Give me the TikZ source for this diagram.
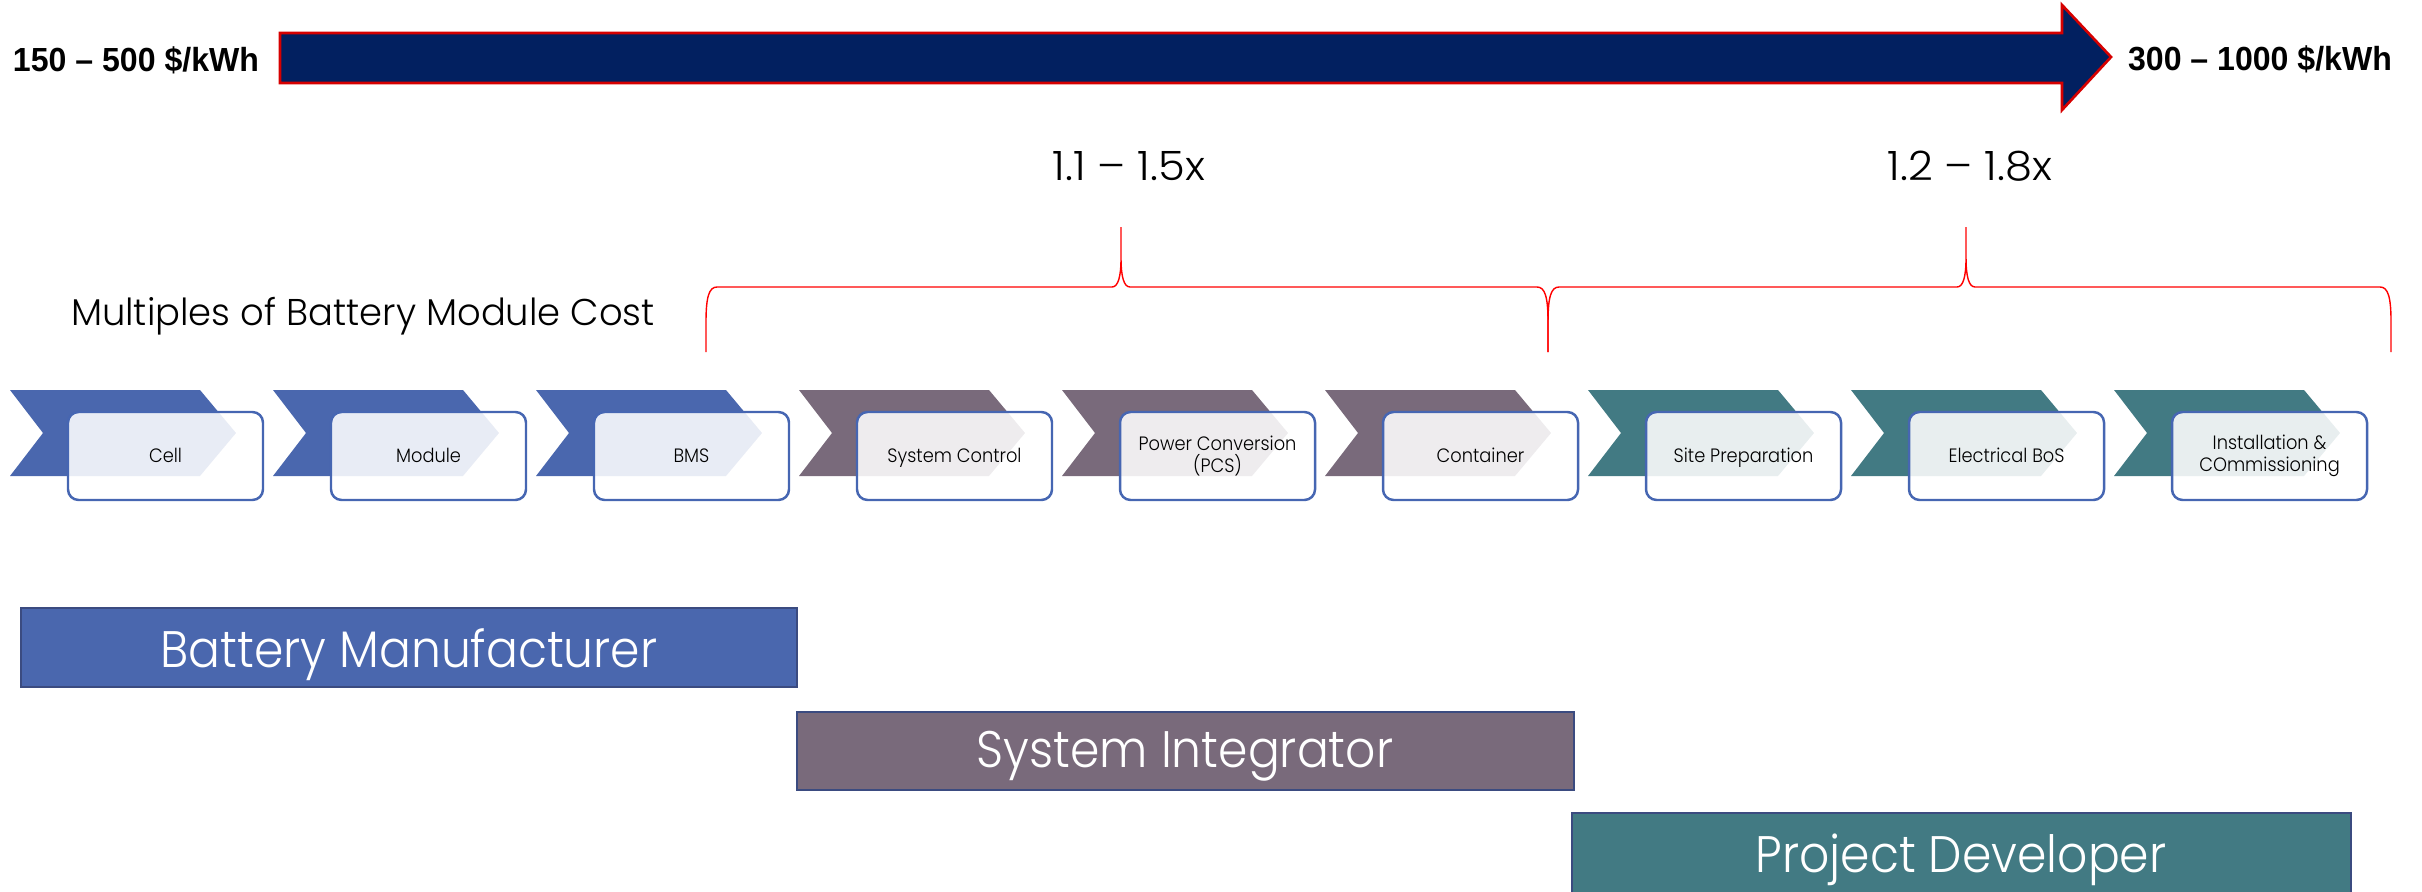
\documentclass[tikz,border=0pt]{standalone}
\usepackage{fontspec}
\setmainfont{Poppins Light}[FakeStretch=0.92]
\newfontfamily\widefont{Poppins Light}[FakeStretch=0.99]
\newfontfamily\numfont{Poppins Light}[FakeStretch=1.07]
\newfontfamily\boldlab{Liberation Sans Bold}[FakeStretch=0.96]
\definecolor{navy}{RGB}{2,32,96}
\definecolor{arrowred}{RGB}{214,0,0}
\definecolor{chevblue}{RGB}{74,103,174}
\definecolor{chevmauve}{RGB}{121,106,123}
\definecolor{chevteal}{RGB}{66,122,131}
\definecolor{boxline}{RGB}{70,102,178}
\definecolor{barline}{RGB}{59,75,128}
\tikzset{
  chevron/.style={draw=none},
  stagebox/.style={draw=boxline, line width=0.7pt, fill=white, fill opacity=0.88, rounded corners=3pt},
  stagelabel/.style={font=\fontsize{5.5}{6.1}\selectfont, text=black, inner sep=0pt, align=center},
  rolebar/.style={draw=barline, line width=0.6pt},
  rolelabel/.style={font=\fontsize{14.6}{16}\selectfont, text=white, inner sep=0pt, anchor=base},
  brace/.style={draw=red, line width=0.4pt},
  pricelabel/.style={font=\boldlab\fontsize{9.5}{11}\selectfont, inner sep=0pt, anchor=base},
  multlabel/.style={font=\numfont\fontsize{11.5}{13}\selectfont, inner sep=0pt, anchor=base},
}
\begin{document}
\begin{tikzpicture}[x=0.01cm, y=-0.01cm]
\useasboundingbox (0,0) rectangle (2422,891);

% cost arrow with price range labels
\draw[fill=navy, draw=arrowred, line width=0.75pt]
  (280,33) -- (2062,33) -- (2062,5) -- (2111,57) -- (2062,110) -- (2062,83) -- (280,83) -- cycle;
\node[pricelabel] (lowprice) at (136,72) {150 – 500 \$/kWh};
\node[pricelabel] (highprice) at (2260,71) {300 – 1000 \$/kWh};

% multiples braces
\node[multlabel] (mult1) at (1129,181) {1.1 – 1.5x};
\node[multlabel] (mult2) at (1970,181) {1.2 – 1.8x};
\node[font=\widefont\fontsize{10.6}{12}\selectfont, inner sep=0pt, anchor=base] (multcap) at (363,325) {Multiples of Battery Module Cost};

\draw[brace] (706,352) -- (706,322) .. controls (706,297) and (709,287) .. (717,287)
  -- (1112,287) .. controls (1118,287) and (1121,277) .. (1121,258) -- (1121,227)
  -- (1121,258) .. controls (1121,277) and (1124,287) .. (1130,287)
  -- (1537,287) .. controls (1545,287) and (1548,297) .. (1548,322) -- (1548,352);
\draw[brace] (1548,352) -- (1548,322) .. controls (1548,297) and (1551,287) .. (1559,287)
  -- (1957,287) .. controls (1963,287) and (1966,277) .. (1966,258) -- (1966,227)
  -- (1966,258) .. controls (1966,277) and (1969,287) .. (1975,287)
  -- (2380,287) .. controls (2388,287) and (2391,297) .. (2391,322) -- (2391,352);

% value chain chevrons with stage boxes
\foreach \i/\col/\lab/\two in {
  0/chevblue/Cell/0, 1/chevblue/Module/0, 2/chevblue/BMS/0,
  3/chevmauve/System Control/0, 4/chevmauve/{Power Conversion\\(PCS)}/1, 5/chevmauve/Container/0,
  6/chevteal/Site Preparation/0, 7/chevteal/Electrical BoS/0, 8/chevteal/{Installation \&\\COmmissioning}/1} {
  \pgfmathsetmacro{\L}{10+263*\i}
  \fill[chevron, fill=\col] (\L,390) -- (\L+190,390) -- (\L+226,433) -- (\L+190,476)
    -- (\L,476) -- (\L+33,433) -- cycle;
  \draw[stagebox] (\L+58,412) rectangle (\L+253,500);
  \ifnum\two=1
    \node[stagelabel, anchor=center] (stage\i) at (\L+155.5,456) {\lab};
  \else
    \node[stagelabel, anchor=base] (stage\i) at (\L+155.5,462.5) {\lab};
  \fi
}

% role bars
\fill[rolebar, fill=chevblue] (21,608) rectangle (797,687);
\node[rolelabel] (manuf) at (409,667) {Battery Manufacturer};
\fill[rolebar, fill=chevmauve] (797,712) rectangle (1574,790);
\node[rolelabel] (integ) at (1185,767) {System Integrator};
\fill[rolebar, fill=chevteal] (1572,813) rectangle (2351,895);
\node[rolelabel] (devel) at (1961,872) {Project Developer};
\draw[rolebar] (21,608) rectangle (797,687);
\draw[rolebar] (797,712) rectangle (1574,790);
\draw[rolebar] (1572,813) rectangle (2351,895);
\end{tikzpicture}
\end{document}
